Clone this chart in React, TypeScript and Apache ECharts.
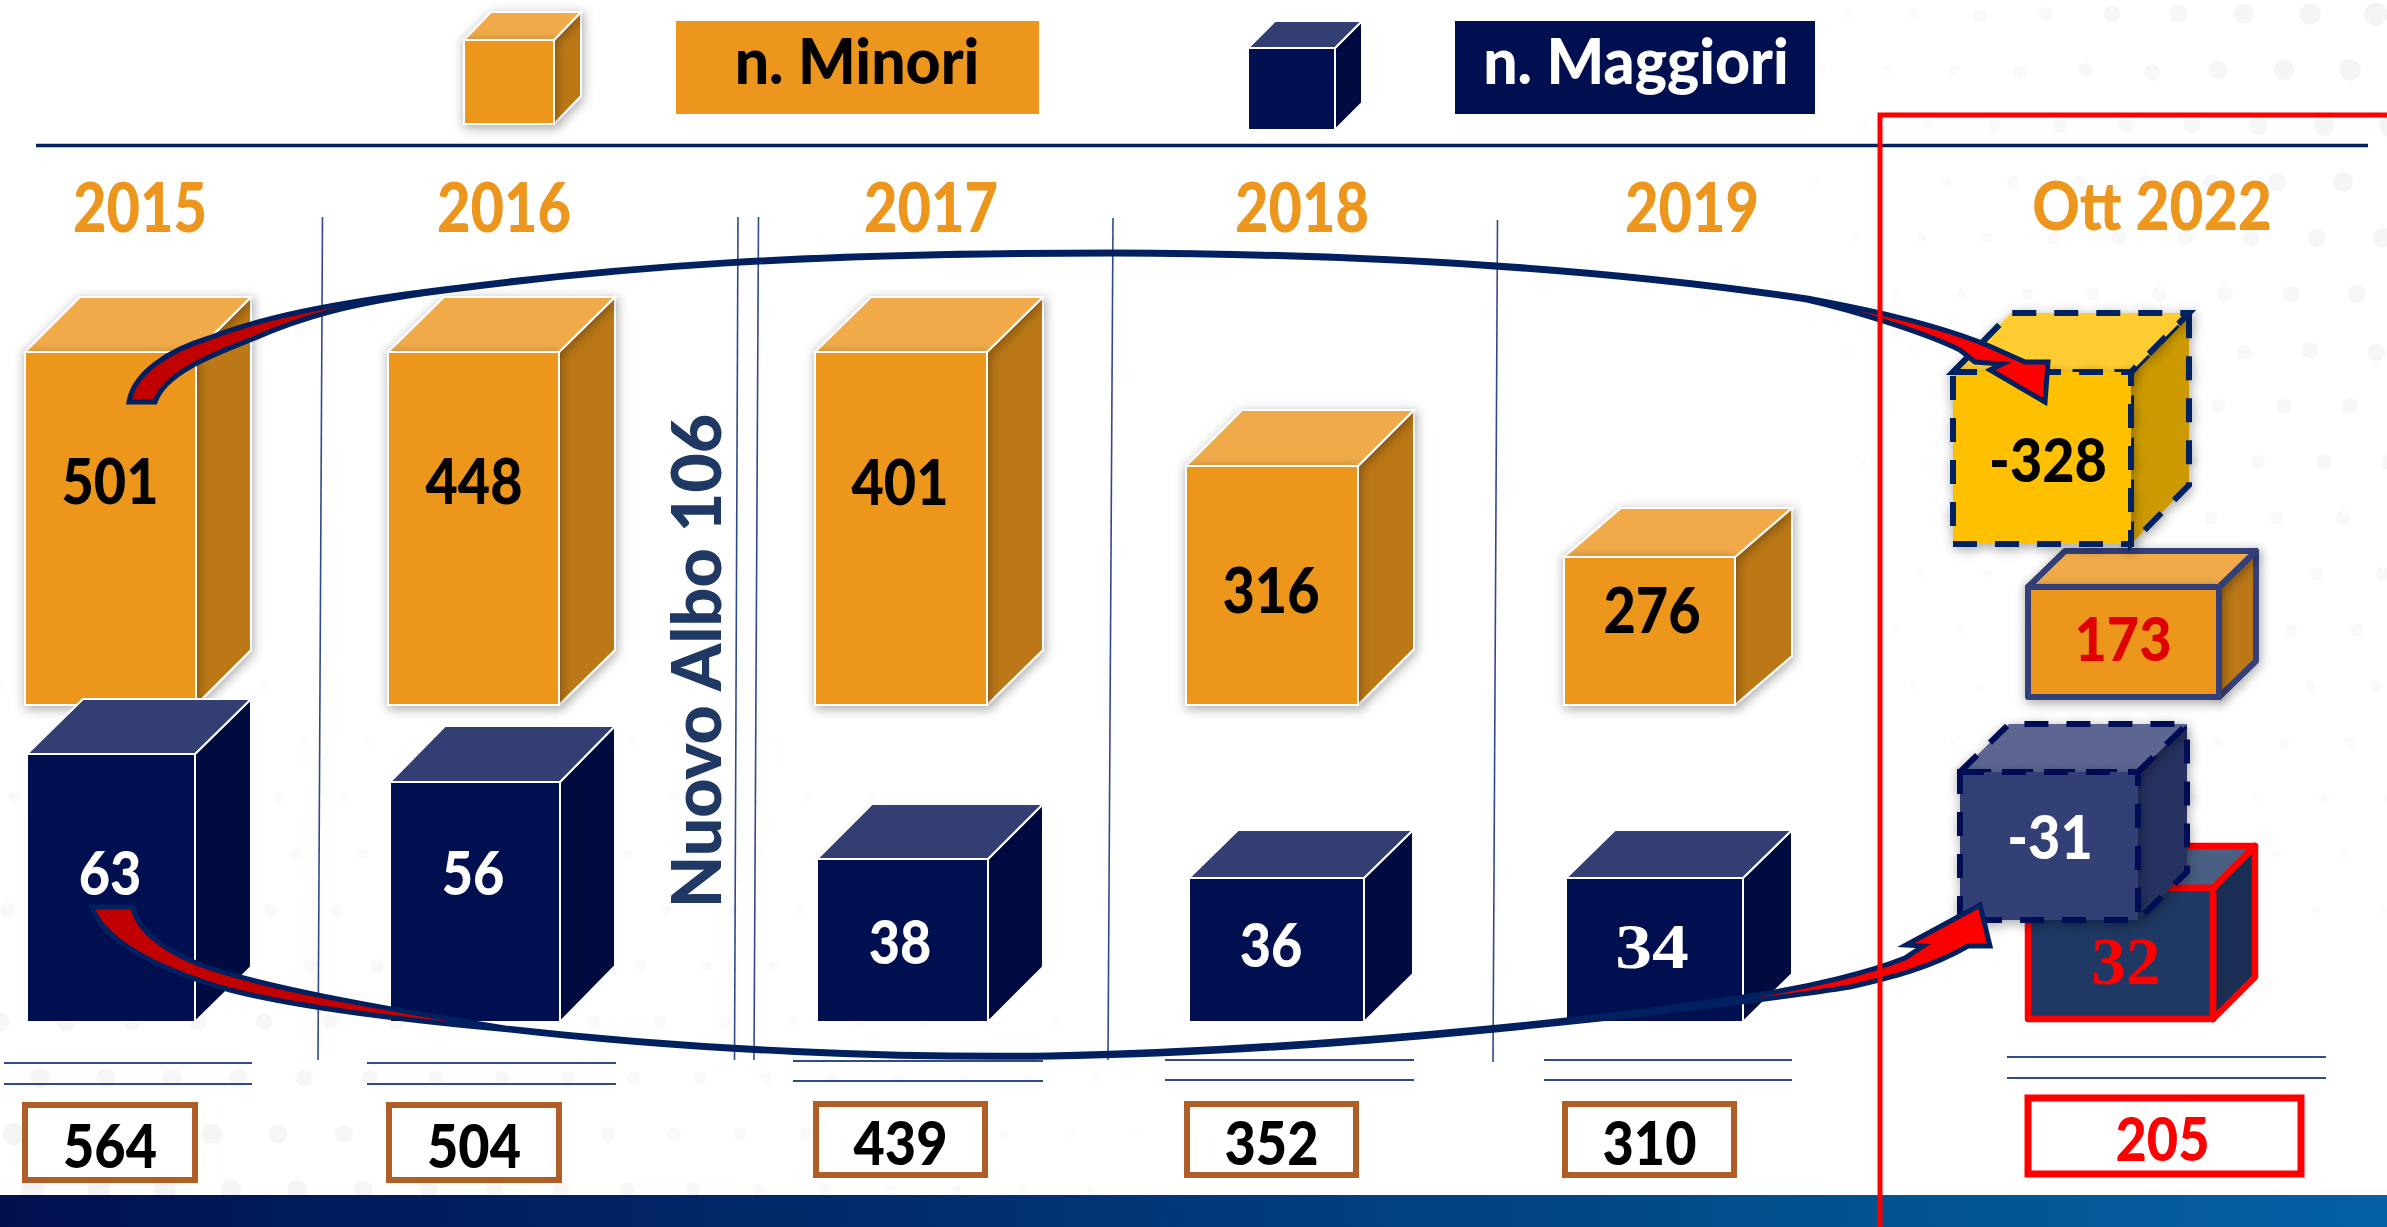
import React, { useEffect, useRef } from "react";
import * as echarts from "echarts";

// ---------- data ----------
const categories = ["2015", "2016", "2017", "2018", "2019", "Ott 2022"];
const minori = [501, 448, 401, 316, 276, 173];
const maggiori = [63, 56, 38, 36, 34, 32];
const totals = [564, 504, 439, 352, 310, 205];
const variazioneMinori = [-328];
const variazioneMaggiori = [-31];
const legendLabels = ["n. Minori", "n. Maggiori"];
const albo = "Nuovo Albo 106";

// ---------- layout (picture geometry, separate from the values) ----------
type Box = { x0: number; x1: number; sx: number; top: number; bottom: number; back: number };
const box = (x0: number, x1: number, sx: number, top: number, bottom: number, back: number): Box => ({ x0, x1, sx, top, bottom, back });
const minoriBoxes = [
  box(25, 196, 251, 352, 705, 297),
  box(388, 559, 615, 352, 705, 297),
  box(815, 987, 1043, 352, 705, 297),
  box(1186, 1358, 1414, 466, 705, 410),
  box(1564, 1735, 1792, 557, 705, 508),
  box(2028, 2219, 2256, 587, 697, 551),
];
const maggioriBoxes = [
  box(27, 195, 251, 754, 1022, 699),
  box(390, 560, 615, 782, 1022, 726),
  box(817, 988, 1043, 859, 1022, 804),
  box(1189, 1364, 1413, 878, 1022, 830),
  box(1566, 1743, 1792, 878, 1022, 830),
  box(2028, 2213, 2255, 888, 1019, 846),
];
const minoriDeltaBox = box(1953, 2131, 2189, 372, 544, 313);
const maggioriDeltaBox = box(1960, 2138, 2187, 772, 920, 724);
const minoriLabelPos = [[110, 480], [474, 480], [900, 481], [1271, 589], [1652, 609], [2123, 638]];
const maggioriLabelPos = [[110, 872], [473, 872], [900, 941], [1271, 944], [1652, 947], [2126, 961]];
const yearPos = [[140, 206], [504, 206], [931, 206], [1302, 206], [1692, 206], [2152, 204]];
const totalBoxes = [
  [25, 195, 1105, 1180], [389, 559, 1105, 1180], [816, 985, 1104, 1175],
  [1187, 1356, 1104, 1175], [1565, 1734, 1104, 1175], [2028, 2301, 1098, 1174],
];
const ruleSpans = [
  [4, 252, 1063, 1084], [367, 616, 1063, 1084], [793, 1043, 1061, 1081],
  [1165, 1414, 1060, 1080], [1544, 1792, 1060, 1080], [2007, 2326, 1057, 1078],
];
const dividers = [
  [322.5, 217, 318, 1060], [738, 217, 734.5, 1060], [758.5, 217, 754, 1060],
  [1113, 218, 1108, 1060], [1497.5, 220, 1493, 1062],
];

const orange = { front: "#EC961E", side: "#BC7814", top: "#F0AA48" };
const navy = { front: "#000F50", side: "#000C40", top: "#333F73" };
const FONT = "Lato";
const HEAVY = 900;

const ARROW_TOP =
  "M129 402 C134 372 170 350 209 338 C260 318 330 303 444 289 C620 266 800 252 1113 252 C1400 253 1620 270 1807 298 C1860 308 1930 322 1987 345 L2025 362 L2048 362 L2045 402 L1990 370 L2002 364 L1975 362 L1960 350 C1930 335 1860 312 1807 300 C1620 272 1400 255 1113 254 C800 254 620 268 444 291 C350 303 300 318 255 338 C215 354 165 372 155 402 Z";
const ARROW_BOTTOM =
  "M92 907 L133 907 C137 930 165 950 194 962 C250 985 380 1008 505 1028 C700 1050 900 1057 1050 1055 C1300 1050 1600 1020 1750 996 C1810 987 1870 972 1905 958 L1923 946 L1906 945 L1980 905 L1990 946 L1968 946 C1930 968 1890 978 1850 987 C1800 995 1400 1052 1050 1057 C900 1059 700 1052 510 1030 C400 1020 300 1008 230 990 C170 973 105 945 92 907 Z";
echarts.graphic.registerShape("arrowTop", echarts.graphic.extendPath(ARROW_TOP, {}));
echarts.graphic.registerShape("arrowBottom", echarts.graphic.extendPath(ARROW_BOTTOM, {}));

type Cols = { front: string; side: string; top: string };
type CubeStyle = { stroke: string; lineWidth: number; lineDash?: number[]; shadow?: boolean; join?: string };

function cubeParts(b: Box, c: Cols, st: CubeStyle, P: (x: number, y: number) => number[]) {
  const dy = b.top - b.back;
  const dx = b.sx - b.x1;
  const sb = b.bottom - dy;
  const base: any = { stroke: st.stroke, lineWidth: st.lineWidth, lineJoin: st.join || "miter" };
  if (st.lineDash) base.lineDash = st.lineDash;
  const sh = st.shadow === false ? {} : { shadowBlur: 12, shadowColor: "rgba(0,0,0,0.35)", shadowOffsetX: 1, shadowOffsetY: 3 };
  const poly = (pts: number[][], fill: string, extra: any = {}) => ({
    type: "polygon",
    shape: { points: pts.map((p) => P(p[0], p[1])) },
    style: { ...base, fill, ...extra },
  });
  return [
    poly([[b.x1, b.top], [b.sx, b.back], [b.sx, sb], [b.x1, b.bottom]], c.side, sh),
    poly([[b.x0, b.top], [b.x0 + dx, b.back], [b.sx, b.back], [b.x1, b.top]], c.top, sh),
    poly([[b.x0, b.top], [b.x1, b.top], [b.x1, b.bottom], [b.x0, b.bottom]], c.front, sh),
  ];
}

function textEl(text: string, x: number, y: number, size: number, fill: string, scaleX = 1, family = FONT, weight: any = HEAVY) {
  return {
    type: "text",
    x,
    y,
    scaleX,
    style: { text, fontSize: size, fontFamily: family, fontWeight: weight, fill, align: "center", verticalAlign: "middle" },
  };
}

function cubeSeries(
  name: string,
  values: number[],
  boxes: Box[],
  labelPos: number[][],
  look: (i: number) => { cols: Cols; st: CubeStyle; label: any },
  z: number,
) {
  return {
    type: "custom",
    name,
    z,
    coordinateSystem: "cartesian2d",
    silent: true,
    data: values.map((v, i) => [i, v]),
    renderItem: (_p: any, api: any) => {
      const i = api.value(0);
      const v = api.value(1);
      const P = (x: number, y: number) => api.coord([x, y]);
      const l = look(i);
      const [tx, ty] = P(labelPos[i][0], labelPos[i][1]);
      return {
        type: "group",
        children: [
          ...cubeParts(boxes[i], l.cols, l.st, P),
          textEl(String(v), tx, ty, l.label.size, l.label.fill, l.label.scaleX, l.label.family || FONT, l.label.weight || HEAVY),
        ],
      };
    },
  };
}

function backgroundDots() {
  const out: any[] = [];
  const stepX = 66;
  const stepY = 56;
  for (let row = 0; row * stepY < 1195; row++) {
    for (let col = 0; col * stepX < 2400; col++) {
      const x = col * stepX + (row % 2 ? stepX / 2 : 0) + (row % 3) * 7;
      const y = row * stepY + 14;
      const tr = Math.max(0, (x - 1750) / 640) * Math.max(0, 1 - y / 1050);
      const bl = Math.max(0, 1 - x / 1250) * Math.max(0, (y - 620) / 560);
      const s = Math.max(tr, bl);
      if (s < 0.08) continue;
      out.push({
        type: "circle",
        z: 0,
        silent: true,
        shape: { cx: x, cy: y, r: 3 + 9 * s },
        style: { fill: "#EDEDED", opacity: Math.min(0.6, 0.15 + s * 0.5) },
      });
    }
  }
  return out;
}

function buildGraphic(P: (x: number, y: number) => number[]) {
  const line = (x1: number, y1: number, x2: number, y2: number, stroke: string, lineWidth: number, z = 1) => ({
    type: "line",
    z,
    silent: true,
    shape: { x1, y1, x2, y2 },
    style: { stroke, lineWidth },
  });
  const redFill = {
    type: "linear", x: 0, y: 0, x2: 1, y2: 0,
    colorStops: [{ offset: 0, color: "#C00000" }, { offset: 0.7, color: "#D80000" }, { offset: 1, color: "#FF0000" }],
  };
  const els: any[] = [
    ...backgroundDots(),
    {
      type: "rect", z: 1, silent: true,
      shape: { x: 0, y: 1195, width: 2387, height: 32 },
      style: {
        fill: {
          type: "linear", x: 0, y: 0, x2: 1, y2: 0,
          colorStops: [{ offset: 0, color: "#001150" }, { offset: 0.35, color: "#002A6C" }, { offset: 0.78, color: "#02528F" }, { offset: 1, color: "#0560A5" }],
        },
      },
    },
    line(36, 145.5, 2368, 145.5, "#002060", 3.5),
    ...dividers.map((d) => line(d[0], d[1], d[2], d[3], "#2F4B8C", 1.6)),
    ...ruleSpans.flatMap((r) => [line(r[0], r[2], r[1], r[2], "#2F4B8C", 2), line(r[0], r[3], r[1], r[3], "#2F4B8C", 2)]),
    // legend
    { type: "group", z: 3, silent: true, children: cubeParts(box(464, 554, 581, 40, 124, 12), orange, { stroke: "#FFFFFF", lineWidth: 2 }, P) },
    { type: "group", z: 3, silent: true, children: cubeParts(box(1248, 1335, 1362, 48, 130, 21), navy, { stroke: "#FFFFFF", lineWidth: 2, shadow: false }, P) },
    { type: "rect", z: 3, silent: true, shape: { x: 676, y: 21, width: 363, height: 93 }, style: { fill: orange.front } },
    { type: "rect", z: 3, silent: true, shape: { x: 1455, y: 21, width: 360, height: 93 }, style: { fill: navy.front } },
    { z: 4, silent: true, ...textEl(legendLabels[0], 857, 60, 62, "#000000", 0.98) },
    { z: 4, silent: true, ...textEl(legendLabels[1], 1636, 60, 62, "#FFFFFF", 0.98) },
    { z: 4, silent: true, ...textEl(albo, 694, 661, 68, "#1F3864", 1), rotation: Math.PI / 2 },
    // arrows
    { type: "arrowTop", z: 8, silent: true, x: 0, y: 0, style: { fill: redFill, stroke: "#002060", lineWidth: 5, lineJoin: "miter" } },
    { type: "arrowBottom", z: 8, silent: true, x: 0, y: 0, style: { fill: redFill, stroke: "#002060", lineWidth: 5, lineJoin: "miter" } },
    // red frame
    { type: "polyline", z: 9, silent: true, shape: { points: [[1880, 1227], [1880, 115], [2387, 115]] }, style: { stroke: "#FF0000", lineWidth: 5, fill: "none" } },
  ];
  return els;
}

export default function App() {
  const ref = useRef<HTMLDivElement>(null);
  useEffect(() => {
    document.body.style.margin = "0";
    document.body.style.background = "#FFFFFF";
    const chart = echarts.init(ref.current!, undefined, { renderer: "svg" });
    const P = (x: number, y: number) => [x, y];
    const whiteEdge: CubeStyle = { stroke: "#FFFFFF", lineWidth: 2 };
    const option: any = {
      animation: false,
      backgroundColor: "#FFFFFF",
      grid: { left: 0, right: 0, top: 0, bottom: 0 },
      xAxis: { type: "value", min: 0, max: 2387, show: false },
      yAxis: { type: "value", min: 0, max: 1227, inverse: true, show: false },
      tooltip: { show: false },
      graphic: { elements: buildGraphic(P) },
      series: [
        cubeSeries("n. Minori", minori, minoriBoxes, minoriLabelPos, (i) =>
          i === 5
            ? { cols: orange, st: { stroke: "#34417A", lineWidth: 6, join: "round" }, label: { size: 60, fill: "#E00000", scaleX: 0.93 } }
            : { cols: orange, st: whiteEdge, label: { size: 62, fill: "#000000", scaleX: 0.9 } }, 2),
        cubeSeries("n. Maggiori", maggiori, maggioriBoxes, maggioriLabelPos, (i) =>
          i === 5
            ? { cols: { front: "#1F3864", side: "#1A2E53", top: "#4A5F84" }, st: { stroke: "#FF0000", lineWidth: 6.5, shadow: false, join: "round" }, label: { size: 68, fill: "#FF0000", scaleX: 1.02, family: "Liberation Serif", weight: "bold" } }
            : i === 4
              ? { cols: navy, st: { ...whiteEdge, shadow: false }, label: { size: 64, fill: "#FFFFFF", scaleX: 1.15, family: "Liberation Serif", weight: "bold" } }
              : { cols: navy, st: { ...whiteEdge, shadow: false }, label: { size: 60, fill: "#FFFFFF", scaleX: 0.9 } }, 3),
        cubeSeries("Variazione Minori", variazioneMinori, [minoriDeltaBox], [[2048, 459]], () => ({
          cols: { front: "#FFC000", side: "#CC9A00", top: "#FFCD33" },
          st: { stroke: "#002060", lineWidth: 6, lineDash: [24, 18] },
          label: { size: 60, fill: "#000000", scaleX: 0.93 },
        }), 4),
        cubeSeries("Variazione Maggiori", variazioneMaggiori, [maggioriDeltaBox], [[2050, 836]], () => ({
          cols: { front: "#333F76", side: "#283060", top: "#5B6690" },
          st: { stroke: "#001155", lineWidth: 6, lineDash: [24, 18] },
          label: { size: 60, fill: "#FFFFFF", scaleX: 0.93 },
        }), 5),
        {
          type: "custom",
          name: "Anni",
          z: 6,
          silent: true,
          data: categories.map((c, i) => [i]),
          renderItem: (_p: any, api: any) => {
            const i = api.value(0);
            const [x, y] = api.coord(yearPos[i]);
            return i === 5
              ? textEl(categories[i], x, y, 66, "#EC961E", 0.89)
              : textEl(categories[i], x, y, 68, "#EC961E", 0.85);
          },
        },
        {
          type: "custom",
          name: "Totale",
          z: 6,
          silent: true,
          data: totals.map((v, i) => [i, v]),
          renderItem: (_p: any, api: any) => {
            const i = api.value(0);
            const v = api.value(1);
            const [x0, x1, y0, y1] = totalBoxes[i];
            const a = api.coord([x0, y0]);
            const b = api.coord([x1, y1]);
            const last = i === 5;
            return {
              type: "group",
              children: [
                {
                  type: "rect",
                  shape: { x: a[0], y: a[1], width: b[0] - a[0], height: b[1] - a[1] },
                  style: { fill: "#FFFFFF", stroke: last ? "#FF0000" : "#AE5E26", lineWidth: last ? 7 : 6 },
                },
                textEl(String(v), (a[0] + b[0]) / 2 + (last ? -2 : 0), (a[1] + b[1]) / 2 + 2, 60, last ? "#FF0000" : "#000000", 0.9),
              ],
            };
          },
        },
      ],
    };
    chart.setOption(option);
    return () => chart.dispose();
  }, []);
  return <div ref={ref} style={{ width: 2387, height: 1227, position: "fixed", left: 0, top: 0 }} />;
}
